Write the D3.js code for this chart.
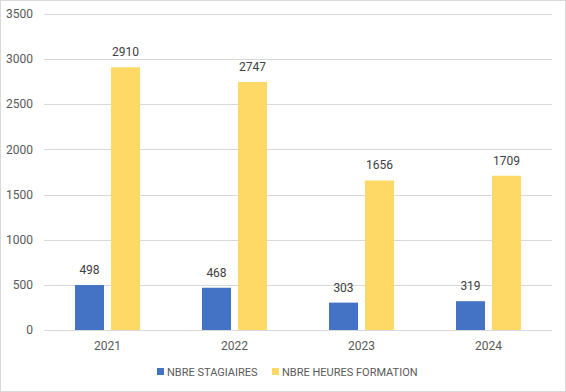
<!DOCTYPE html>
<html lang="fr">
<head>
<meta charset="UTF-8">
<title>Stagiaires</title>
<script src="https://d3js.org/d3.v7.min.js"></script>
<style>
  body { margin: 0; background: #fff; }
  svg text { font-family: Roboto, "Liberation Sans", sans-serif; fill: #595959; }
</style>
</head>
<body>
<svg></svg>
<script>
const years = ["2021", "2022", "2023", "2024"];
const stagiaires = [498, 468, 303, 319];
const heures = [2910, 2747, 1656, 1709];
const yTicks = [0, 500, 1000, 1500, 2000, 2500, 3000, 3500];
const seriesNames = ["NBRE STAGIAIRES", "NBRE HEURES FORMATION"];
const colors = ["#4472C4", "#FFD966"];

const W = 566, H = 392;
const svg = d3.select("svg").attr("width", W).attr("height", H);

svg.append("rect").attr("x", 0.5).attr("y", 0.5).attr("width", W - 1).attr("height", H - 1)
  .attr("fill", "#fff").attr("stroke", "#d9d9d9");

const plotL = 44, plotR = 552, plotT = 14, plotB = 330;
const x = d3.scaleBand().domain(years).range([plotL, plotR]);
const y = d3.scaleLinear().domain([0, 3500]).range([plotB, plotT]);

// grid
svg.append("g").selectAll("line").data(yTicks).join("line")
  .attr("x1", plotL).attr("x2", plotR)
  .attr("y1", d => Math.round(y(d)) + 0.5).attr("y2", d => Math.round(y(d)) + 0.5)
  .attr("stroke", "#d9d9d9");

// y labels
svg.append("g").selectAll("text").data(yTicks).join("text")
  .attr("x", 33).attr("y", d => y(d)).attr("dy", "0.35em")
  .attr("text-anchor", "end").attr("font-size", 12).text(d => d);

// x labels
svg.append("g").selectAll("text").data(years).join("text")
  .attr("x", d => x(d) + x.bandwidth() / 2).attr("y", 346).attr("dy", "0.35em")
  .attr("text-anchor", "middle").attr("font-size", 12).text(d => d);

const barW = 29, gap = 7;
const series = [stagiaires, heures];
series.forEach((vals, si) => {
  const g = svg.append("g");
  const bx = (d, i) => x(years[i]) + x.bandwidth() / 2 - (barW * 2 + gap) / 2 + si * (barW + gap);
  g.selectAll("rect").data(vals).join("rect")
    .attr("x", bx).attr("width", barW)
    .attr("y", d => y(d)).attr("height", d => plotB - y(d))
    .attr("fill", colors[si]);
  g.selectAll("text").data(vals).join("text")
    .attr("x", (d, i) => bx(d, i) + barW / 2).attr("y", d => y(d) - 11)
    .attr("text-anchor", "middle").attr("font-size", 12)
    .style("fill", "#404040").text(d => d);
});

// legend
const legX = [157, 272];
const leg = svg.append("g");
seriesNames.forEach((n, i) => {
  leg.append("rect").attr("x", legX[i]).attr("y", 368).attr("width", 7).attr("height", 7).attr("fill", colors[i]);
  leg.append("text").attr("x", legX[i] + 10).attr("y", 372).attr("dy", "0.35em")
    .attr("font-size", 11).text(n);
});
</script>
</body>
</html>
